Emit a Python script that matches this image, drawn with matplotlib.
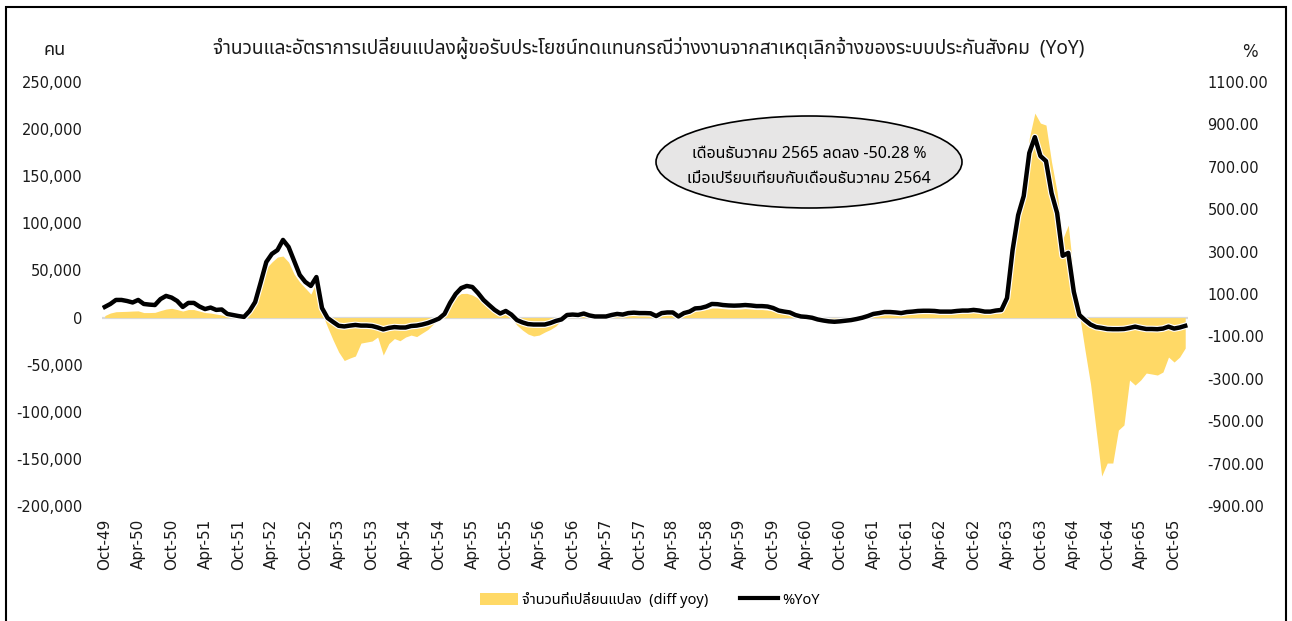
import numpy as np
import matplotlib
matplotlib.use("Agg")
import matplotlib.pyplot as plt
import matplotlib.patheffects as pe
from matplotlib import font_manager
from matplotlib.ft2font import FT2Font
from matplotlib.patches import Ellipse, Rectangle, Patch
from matplotlib.lines import Line2D
from matplotlib.ticker import FuncFormatter

# monthly data, Oct-49 .. Dec-65 (Thai B.E. years)
month_names = ["Jan", "Feb", "Mar", "Apr", "May", "Jun",
               "Jul", "Aug", "Sep", "Oct", "Nov", "Dec"]
months = [f"{month_names[(9 + k) % 12]}-{49 + (9 + k) // 12}" for k in range(195)]

# change in number of claimants vs same month last year (persons)
diff_yoy = [
    2100, 4800, 6200, 6400, 6600, 6900, 7100, 5300, 5300, 5500,
    7400, 9000, 9800, 8500, 6900, 8500, 8500, 6900, 5300, 4800,
    3700, 2700, 1600, 1100, 500, 300, 6900, 18600, 32400, 52500,
    58900, 64200, 65300, 58900, 46100, 37700, 31300, 24900, 37700, 4800,
    -10100, -23900, -36600, -45600, -43000, -40800, -27100, -26000, -24900, -20700,
    -39800, -27600, -22300, -24600, -20700, -18600, -20200, -16400, -12700, -6900,
    -1600, 3700, 13300, 21700, 25500, 25700, 23900, 20700, 16400, 11100,
    6400, 3700, 3200, -500, -8000, -13300, -17500, -19600, -18600, -15400,
    -12700, -9000, -2700, 1100, 1600, 1100, 2100, 1100, 500, 500,
    500, 1600, 2100, 2100, 2700, 3200, 3200, 3200, 2700, 500,
    2700, 3200, 3200, 1100, 3200, 4800, 6900, 7400, 8500, 10100,
    10100, 9500, 9000, 9000, 9000, 9500, 9000, 8500, 8500, 8000,
    6900, 4800, 3700, 2700, 500, -1100, -1600, -2100, -3700, -4800,
    -5800, -6200, -5800, -5300, -4200, -3200, -2100, -500, 1100, 2100,
    3200, 3200, 2700, 2700, 3200, 3700, 4200, 4200, 4200, 4200,
    3700, 3700, 3700, 4200, 4800, 4800, 5300, 4800, 4200, 4200,
    4500, 4800, 29200, 65300, 105600, 133200, 190500, 217000, 206400, 204300,
    165000, 133200, 83300, 98100, 43000, 3700, -34500, -70600, -119400, -168200,
    -154400, -154400, -119400, -114000, -66300, -71600, -66300, -58900, -59900, -61000,
    -57800, -41900, -47200, -41900, -32400,
]

# %YoY
pct_yoy = [
    39, 53, 72, 72, 67, 60, 72, 53, 50, 48,
    76, 91, 83, 67, 39, 58, 58, 41, 29, 36,
    25, 27, 6, 1, -4, -8, 20, 62, 155, 251,
    289, 307, 355, 322, 256, 190, 157, 138, 180, 34,
    -13, -32, -50, -53, -49, -46, -49, -49, -51, -58,
    -67, -60, -56, -58, -58, -51, -49, -44, -37, -27,
    -16, 6, 58, 100, 128, 138, 133, 105, 72, 48,
    25, 8, 20, 3, -23, -34, -42, -44, -44, -44,
    -37, -27, -20, 1, 3, 1, 8, -1, -6, -6,
    -6, 1, 6, 3, 10, 12, 10, 10, 9, -4,
    10, 13, 13, -6, 10, 17, 32, 34, 41, 53,
    52, 48, 46, 45, 46, 48, 46, 43, 43, 41,
    34, 22, 17, 13, 1, -6, -8, -12, -20, -25,
    -29, -31, -29, -26, -23, -18, -12, -4, 6, 10,
    15, 15, 13, 10, 15, 17, 20, 21, 21, 20,
    17, 17, 17, 20, 22, 22, 25, 22, 17, 17,
    22, 25, 81, 307, 472, 562, 765, 840, 751, 727,
    576, 482, 280, 294, 110, 1, -23, -44, -56, -60,
    -65, -66, -66, -65, -60, -54, -60, -65, -65, -66,
    -63, -54, -63, -58, -50.28,
]

left_ticks = list(range(-200000, 250001, 50000))
right_ticks = list(range(-900, 1101, 200))

title = "จำนวนและอัตราการเปลี่ยนแปลงผู้ขอรับประโยชน์ทดแทนกรณีว่างงานจากสาเหตุเลิกจ้างของระบบประกันสังคม  (YoY)"
note = "เดือนธันวาคม 2565 ลดลง -50.28 %\nเมื่อเปรียบเทียบกับเดือนธันวาคม 2564"
legend_labels = ["จำนวนที่เปลี่ยนแปลง  (diff yoy)", "%YoY"]


def find_thai_font():
    preferred = ["Tahoma", "Noto Sans Thai", "Noto Sans Thai UI", "Noto Sans Thai Looped",
                 "Loma", "Garuda", "Sarabun", "Waree", "Kinnari", "Norasi"]
    found = {}
    for f in font_manager.fontManager.ttflist:
        if f.name in found:
            continue
        try:
            cmap = FT2Font(f.fname).get_charmap()
        except Exception:
            continue
        if 0x0E01 in cmap and 0x0E33 in cmap:
            found[f.name] = f.fname
    for name in preferred:
        if name in found:
            return name
    return next(iter(found), None)


thai = find_thai_font()
fam = [thai, "DejaVu Sans"] if thai else ["DejaVu Sans"]
plt.rcParams["font.family"] = fam

W, H = 1292, 621
fig = plt.figure(figsize=(W / 100, H / 100), dpi=100)

def fx(px):
    return px / W

def fy(py):
    return 1 - py / H

ax = fig.add_axes([fx(102), fy(506), fx(1188) - fx(102), fy(82) - fy(506)])
ax2 = ax.twinx()

x = np.arange(len(months))
yellow = "#FFD966"
txt = "#1a1a1a"

ax.fill_between(x, 0, diff_yoy, color=yellow, linewidth=0, zorder=2)
ax.axhline(0, color="#d9d9d9", linewidth=1.6, zorder=1)
ax.set_ylim(-200000, 250000)
ax.set_yticks(left_ticks)
ax.yaxis.set_major_formatter(FuncFormatter(lambda v, p: f"{int(v):,}"))

ax2.plot(x, pct_yoy, color="black", linewidth=3.2, solid_joinstyle="round",
         path_effects=[pe.Stroke(linewidth=4.8, foreground="white"), pe.Normal()], zorder=3)
ax2.set_ylim(-900, 1100)
ax2.set_yticks(right_ticks)
ax2.yaxis.set_major_formatter(FuncFormatter(lambda v, p: f"{v:.2f}"))

ax.set_xlim(-0.5, len(months) - 0.5)
tick_pos = x[::6]
ax.set_xticks(tick_pos)
ax.set_xticklabels([months[i] for i in tick_pos], rotation=90, fontsize=11,
                   family="DejaVu Sans", color=txt)

for a in (ax, ax2):
    for s in a.spines.values():
        s.set_visible(False)
    a.tick_params(length=0)
ax.tick_params(axis="y", labelsize=10.5, pad=14, labelcolor=txt)
ax.tick_params(axis="x", pad=9)
ax2.tick_params(axis="y", labelsize=10.5, pad=14, labelcolor=txt)
for lab in ax.get_yticklabels() + ax2.get_yticklabels():
    lab.set_family("DejaVu Sans")

# titles and unit labels
fig.text(fx(649), fy(48), title, ha="center", va="center", fontsize=13.8, color=txt)
fig.text(fx(55), fy(50), "คน", ha="center", va="center", fontsize=13, color=txt)
fig.text(fx(1250), fy(52), "%", ha="center", va="center", fontsize=12, color=txt,
         family="DejaVu Sans")

# callout
ell = Ellipse((fx(809), fy(162)), fx(306), 92 / H, transform=fig.transFigure,
              facecolor="#e7e6e6", edgecolor="black", linewidth=1.2, zorder=5)
fig.add_artist(ell)
fig.text(fx(809), fy(166), note, ha="center", va="center", fontsize=11.5, color="black",
         linespacing=1.75, zorder=6)

# legend
handles = [Patch(facecolor=yellow, edgecolor="none"),
           Line2D([0], [0], color="black", linewidth=3.0)]
fig.legend(handles, legend_labels, loc="center", bbox_to_anchor=(fx(650), fy(600)),
           ncol=2, frameon=False, fontsize=10.5, handlelength=2.6, handleheight=0.9,
           columnspacing=2.2, handletextpad=0.3)

# outer frame
frame = Rectangle((fx(6), -0.05), fx(1286) - fx(6), fy(7) + 0.05, transform=fig.transFigure,
                  fill=False, edgecolor="black", linewidth=1.5)
fig.add_artist(frame)

fig.savefig("out.png", dpi=100)
